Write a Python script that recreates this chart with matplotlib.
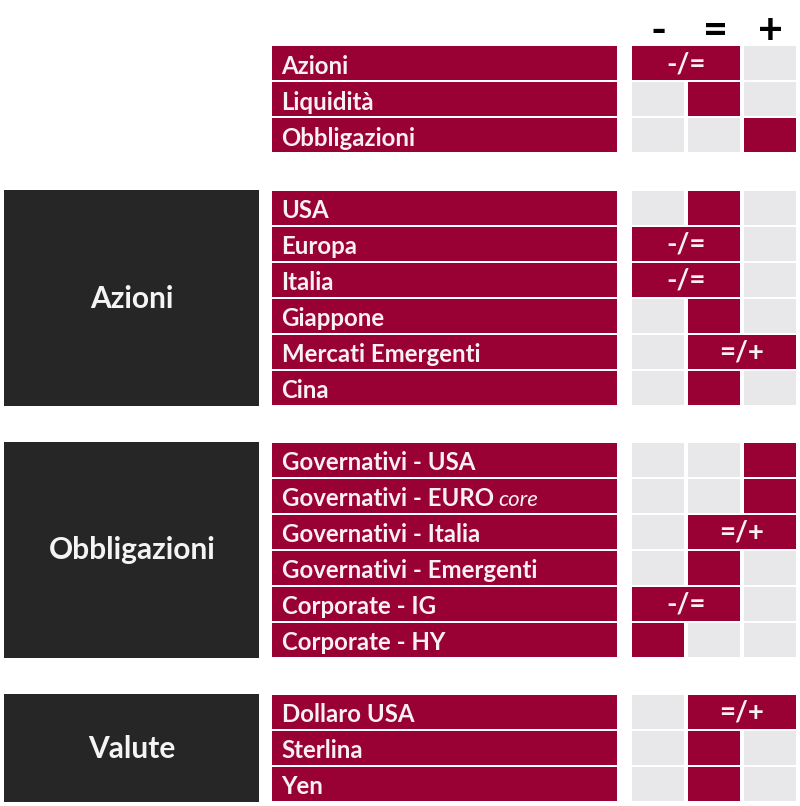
import matplotlib
matplotlib.use("Agg")
import matplotlib.pyplot as plt
from matplotlib.patches import Rectangle

plt.rcParams["font.family"] = ["Lato", "DejaVu Sans"]

# views: 0 = "-", 0.5 = "-/=", 1 = "=", 1.5 = "=/+", 2 = "+"
headers = ["-", "=", "+"]
overview_labels = ["Azioni", "Liquidità", "Obbligazioni"]
overview_views = [0.5, 1, 2]
azioni_labels = ["USA", "Europa", "Italia", "Giappone", "Mercati Emergenti", "Cina"]
azioni_views = [1, 0.5, 0.5, 1, 1.5, 1]
obbl_labels = ["Governativi - USA", "Governativi - EURO", "Governativi - Italia",
               "Governativi - Emergenti", "Corporate - IG", "Corporate - HY"]
obbl_views = [2, 2, 1.5, 1, 0.5, 0]
valute_labels = ["Dollaro USA", "Sterlina", "Yen"]
valute_views = [1.5, 1, 1]

groups = [(None, overview_labels, overview_views, 46),
          ("Azioni", azioni_labels, azioni_views, 191),
          ("Obbligazioni", obbl_labels, obbl_views, 443),
          ("Valute", valute_labels, valute_views, 695)]
marks = {0: "", 0.5: "-/=", 1: "", 1.5: "=/+", 2: ""}

RED = "#990033"
GREY = "#e8e8ea"
DARK = "#262626"
TEXT = "#f8f0f2"
COLS = [632, 688, 744]
COL_W = 52
PITCH = 36
ROW_H = 34

fig = plt.figure(figsize=(8, 8.06), dpi=100)
ax = fig.add_axes([0, 0, 1, 1])
ax.set_xlim(0, 800)
ax.set_ylim(806, 0)
ax.axis("off")

def box(x, y, w, h, color):
    ax.add_patch(Rectangle((x, y), w, h, facecolor=color, edgecolor="none"))

for x, head in zip(COLS, headers):
    ax.text(x + COL_W / 2 + 1, 31, head, ha="center", va="center", fontsize=31,
            fontweight="bold", color="black")

for title, labels, views, top in groups:
    if title:
        h = PITCH * len(labels) - 1
        box(4, top - 1, 255, h + 1, DARK)
        ax.text(132, top - 1 + h / 2 + 1, title, ha="center", va="center", fontsize=21.5,
                fontweight="bold", color="#f4f4f4")
    for i, (label, view) in enumerate(zip(labels, views)):
        y = top + i * PITCH
        box(272, y, 345, ROW_H, RED)
        t = ax.text(281.5, y + ROW_H / 2 + 1, label, ha="left", va="center_baseline", fontsize=17.3,
                    fontweight="bold", color=TEXT)
        if label.endswith("EURO"):
            ax.annotate("core", xy=(1, 0), xycoords=t, xytext=(3.5, 0), textcoords="offset points",
                        va="bottom", ha="left", fontsize=16, style="italic", color=TEXT)
        for x in COLS:
            box(x, y, COL_W, ROW_H, GREY)
        first, last = int(view), int(view + 0.5)
        x0 = COLS[first]
        x1 = COLS[last] + COL_W
        box(x0, y, x1 - x0, ROW_H, RED)
        if marks[view]:
            ax.text((x0 + x1) / 2, y + ROW_H / 2 + 1, marks[view], ha="center", va="center",
                    fontsize=20, fontweight="bold", color=TEXT)

fig.savefig("out.png", dpi=100)
